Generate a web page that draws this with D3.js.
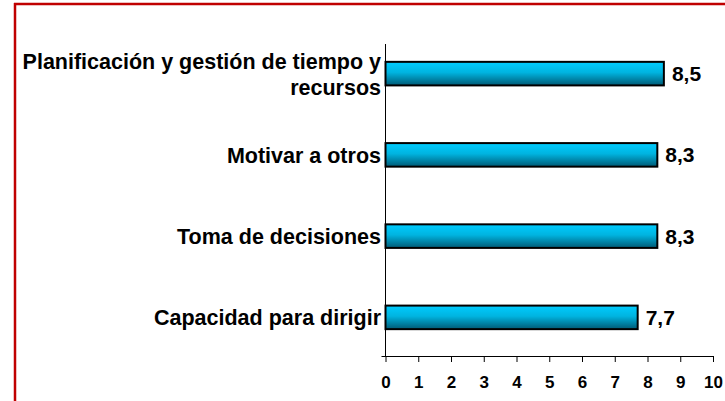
<!DOCTYPE html>
<html>
<head>
<meta charset="utf-8">
<script src="https://cdn.jsdelivr.net/npm/d3@7"></script>
<style>
  body { margin: 0; background: white; }
  text { font-family: "Liberation Sans", Arial, sans-serif; font-weight: bold; }
</style>
</head>
<body>
<div id="chart-area"></div>
<script>
// data
const categories = ["Planificación y gestión de tiempo y recursos", "Motivar a otros", "Toma de decisiones", "Capacidad para dirigir"];
const labelLines = [["Planificación y gestión de tiempo y", "recursos"], ["Motivar a otros"], ["Toma de decisiones"], ["Capacidad para dirigir"]];
const values = [8.5, 8.3, 8.3, 7.7];
const valueLabels = ["8,5", "8,3", "8,3", "7,7"];
const xTicks = [0, 1, 2, 3, 4, 5, 6, 7, 8, 9, 10];

const width = 725;
const height = 401;

const svg = d3.select("#chart-area")
    .append("svg")
    .attr("width", width)
    .attr("height", height);

// red frame
svg.append("line")
    .attr("x1", 14).attr("x2", width)
    .attr("y1", 4).attr("y2", 4)
    .attr("stroke", "#c00000")
    .attr("stroke-width", 2.5);
svg.append("line")
    .attr("x1", 15).attr("x2", 15)
    .attr("y1", 3).attr("y2", height)
    .attr("stroke", "#c00000")
    .attr("stroke-width", 2.5);

// gradient for bars
const grad = svg.append("defs").append("linearGradient")
    .attr("id", "barGrad")
    .attr("x1", 0).attr("x2", 0).attr("y1", 0).attr("y2", 1);
grad.append("stop").attr("offset", "0%").attr("stop-color", "#00ccff");
grad.append("stop").attr("offset", "45%").attr("stop-color", "#00b4e0");
grad.append("stop").attr("offset", "100%").attr("stop-color", "#005a75");

const x0 = 385.5, x1 = 713;
const yTop = 44, yBottom = 356;

// scales
const x = d3.scaleLinear()
    .domain([0, 10])
    .range([x0, x1]);

const y = d3.scaleBand()
    .domain(categories)
    .range([33, 358])
    .paddingInner(0.71)
    .paddingOuter(0.355);

// x axis
const xAxis = d3.axisBottom(x)
    .tickValues(xTicks)
    .tickSize(6)
    .tickSizeOuter(0)
    .tickPadding(14)
    .tickFormat(d => d);

const xAxisGroup = svg.append("g")
    .attr("transform", "translate(0," + yBottom + ")")
    .call(xAxis);
xAxisGroup.select(".domain")
    .attr("d", "M" + (x0 - 4) + ",0.5H" + x1)
    .attr("stroke", "#000");
xAxisGroup.selectAll(".tick line").attr("stroke", "#000");
xAxisGroup.selectAll(".tick text")
    .attr("font-size", "17px")
    .attr("font-family", "Liberation Sans, Arial, sans-serif")
    .attr("font-weight", "bold")
    .attr("fill", "#000");

// y axis line
svg.append("line")
    .attr("x1", x0).attr("x2", x0)
    .attr("y1", yTop).attr("y2", yBottom)
    .attr("stroke", "#000");

// bars
svg.selectAll(".bar")
    .data(categories)
    .enter().append("rect")
    .attr("class", "bar")
    .attr("x", x(0))
    .attr("y", d => y(d))
    .attr("width", (d, i) => x(values[i]) - x(0))
    .attr("height", y.bandwidth())
    .attr("fill", "url(#barGrad)")
    .attr("stroke", "#000")
    .attr("stroke-width", 2);

// value labels
svg.selectAll(".val")
    .data(categories)
    .enter().append("text")
    .attr("class", "val")
    .attr("x", (d, i) => x(values[i]) + 8)
    .attr("y", d => y(d) + y.bandwidth() / 2)
    .attr("dy", "0.36em")
    .attr("font-size", "21px")
    .text((d, i) => valueLabels[i]);

// category labels
const lab = svg.selectAll(".cat")
    .data(categories)
    .enter().append("text")
    .attr("class", "cat")
    .attr("text-anchor", "end")
    .attr("font-size", "21.5px")
    .attr("y", d => y(d) + y.bandwidth() / 2);

lab.each(function(d, i) {
    const lines = labelLines[i];
    const t = d3.select(this);
    lines.forEach((ln, j) => {
        t.append("tspan")
            .attr("x", 381)
            .attr("dy", j === 0 ? (lines.length > 1 ? "-0.2em" : "0.36em") : "1.2em")
            .text(ln);
    });
});
</script>
</body>
</html>
